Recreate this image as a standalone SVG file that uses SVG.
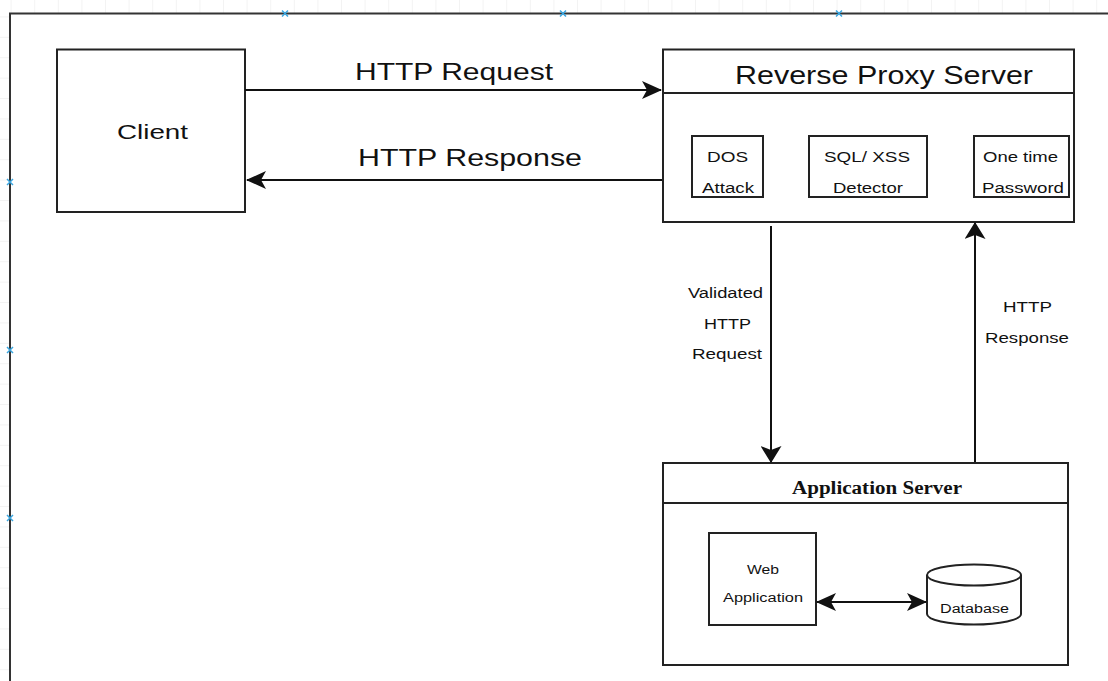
<svg xmlns="http://www.w3.org/2000/svg" width="1108" height="681" viewBox="0 0 1108 681">
  <defs>
    <pattern id="grid" width="23.6" height="20.4" patternUnits="userSpaceOnUse" x="-12" y="-3">
      <path d="M23.6 0V20.4H0" fill="none" stroke="#e8e8e8" stroke-width="1"/>
    </pattern>
    <!-- arrowheads: the drawing is wider than tall, so horizontal and vertical heads differ -->
    <marker id="headH" viewBox="0 0 20 18" refX="19" refY="9" markerWidth="20" markerHeight="18" markerUnits="userSpaceOnUse" orient="auto-start-reverse">
      <path d="M0 0L20 9L0 18L5 9Z" fill="#111"/>
    </marker>
    <marker id="headV" viewBox="0 0 17 21" refX="16" refY="10.5" markerWidth="17" markerHeight="21" markerUnits="userSpaceOnUse" orient="auto-start-reverse">
      <path d="M0 0L17 10.5L0 21L4 10.5Z" fill="#111"/>
    </marker>
  </defs>
  <style>
    .box { fill: #fff; stroke: #222; stroke-width: 2; }
    .line { fill: none; stroke: #222; stroke-width: 2; }
    .edge { fill: none; stroke: #111; stroke-width: 2; }
    .sans { font-family: "Liberation Sans", Arial, sans-serif; fill: #111; }
    .serif { font-family: "Liberation Serif", "Times New Roman", serif; fill: #111; font-weight: bold; }
    .mark { stroke: #3aa6e0; stroke-width: 1.5; }
  </style>

  <!-- canvas background with page area -->
  <rect width="1108" height="681" fill="#fff"/>
  <rect width="1108" height="681" fill="url(#grid)"/>
  <rect x="10" y="13.5" width="1110" height="680" fill="#fff" stroke="#333" stroke-width="2"/>

  <!-- page break markers -->
  <g class="mark">
    <path d="M282 10.5l6 6M288 10.5l-6 6"/>
    <path d="M560 10.5l6 6M566 10.5l-6 6"/>
    <path d="M836 10.5l6 6M842 10.5l-6 6"/>
    <path d="M7 179l6 6M13 179l-6 6"/>
    <path d="M7 347l6 6M13 347l-6 6"/>
    <path d="M7 515l6 6M13 515l-6 6"/>
  </g>

  <!-- client -->
  <g id="client">
    <rect class="box" x="57" y="49.5" width="188" height="162.5"/>
    <text class="sans" x="117" y="139" font-size="20" textLength="71" lengthAdjust="spacingAndGlyphs">Client</text>
  </g>

  <!-- reverse proxy server -->
  <g id="reverse-proxy">
    <rect class="box" x="663" y="49.5" width="411" height="172.5"/>
    <line class="line" x1="663" y1="93" x2="1074" y2="93"/>
    <text class="sans" x="735" y="84" font-size="25" textLength="298" lengthAdjust="spacingAndGlyphs">Reverse Proxy Server</text>
  </g>
  <g id="dos-attack">
    <rect class="box" x="692" y="136" width="71" height="61"/>
    <text class="sans" x="707" y="162" font-size="15.5" textLength="41" lengthAdjust="spacingAndGlyphs">DOS</text>
    <text class="sans" x="702" y="193" font-size="15.5" textLength="52" lengthAdjust="spacingAndGlyphs">Attack</text>
  </g>
  <g id="sql-xss">
    <rect class="box" x="809" y="136" width="118" height="61"/>
    <text class="sans" x="824" y="162" font-size="15.5" textLength="86" lengthAdjust="spacingAndGlyphs">SQL/ XSS</text>
    <text class="sans" x="833" y="193" font-size="15.5" textLength="70" lengthAdjust="spacingAndGlyphs">Detector</text>
  </g>
  <g id="otp">
    <rect class="box" x="974" y="136" width="95" height="61"/>
    <text class="sans" x="983" y="162" font-size="15.5" textLength="75" lengthAdjust="spacingAndGlyphs">One time</text>
    <text class="sans" x="982" y="193" font-size="15.5" textLength="82" lengthAdjust="spacingAndGlyphs">Password</text>
  </g>

  <!-- application server -->
  <g id="app-server">
    <rect class="box" x="663" y="463" width="405" height="202"/>
    <line class="line" x1="663" y1="503" x2="1068" y2="503"/>
    <text class="serif" x="792" y="494" font-size="18.5" textLength="170" lengthAdjust="spacingAndGlyphs">Application Server</text>
  </g>
  <g id="web-app">
    <rect class="box" x="709" y="533" width="107" height="92"/>
    <text class="sans" x="747" y="574" font-size="12.5" textLength="32" lengthAdjust="spacingAndGlyphs">Web</text>
    <text class="sans" x="723" y="602" font-size="12.5" textLength="80" lengthAdjust="spacingAndGlyphs">Application</text>
  </g>
  <g id="database">
    <path class="box" d="M927 575V614A47 10.5 0 0 0 1021 614V575"/>
    <ellipse class="box" cx="974" cy="575" rx="47" ry="10.5"/>
    <text class="sans" x="940" y="613" font-size="12.5" textLength="69" lengthAdjust="spacingAndGlyphs">Database</text>
  </g>

  <!-- connectors -->
  <g id="connectors">
    <line class="edge" x1="245" y1="90" x2="661" y2="90" marker-end="url(#headH)"/>
    <text class="sans" x="355" y="80" font-size="24" textLength="198" lengthAdjust="spacingAndGlyphs">HTTP Request</text>
    <line class="edge" x1="662" y1="180" x2="247" y2="180" marker-end="url(#headH)"/>
    <text class="sans" x="358" y="166" font-size="24" textLength="224" lengthAdjust="spacingAndGlyphs">HTTP Response</text>

    <line class="edge" x1="771" y1="226" x2="771" y2="462" marker-end="url(#headV)"/>
    <text class="sans" x="688" y="298" font-size="15.5" textLength="75" lengthAdjust="spacingAndGlyphs">Validated</text>
    <text class="sans" x="704" y="329" font-size="15.5" textLength="47" lengthAdjust="spacingAndGlyphs">HTTP</text>
    <text class="sans" x="692" y="359" font-size="15.5" textLength="70" lengthAdjust="spacingAndGlyphs">Request</text>

    <line class="edge" x1="975" y1="462" x2="975" y2="223" marker-end="url(#headV)"/>
    <text class="sans" x="1003" y="312" font-size="15.5" textLength="49" lengthAdjust="spacingAndGlyphs">HTTP</text>
    <text class="sans" x="985" y="343" font-size="15.5" textLength="84" lengthAdjust="spacingAndGlyphs">Response</text>

    <line class="edge" x1="817" y1="602" x2="926" y2="602" marker-start="url(#headH)" marker-end="url(#headH)"/>
  </g>
</svg>
